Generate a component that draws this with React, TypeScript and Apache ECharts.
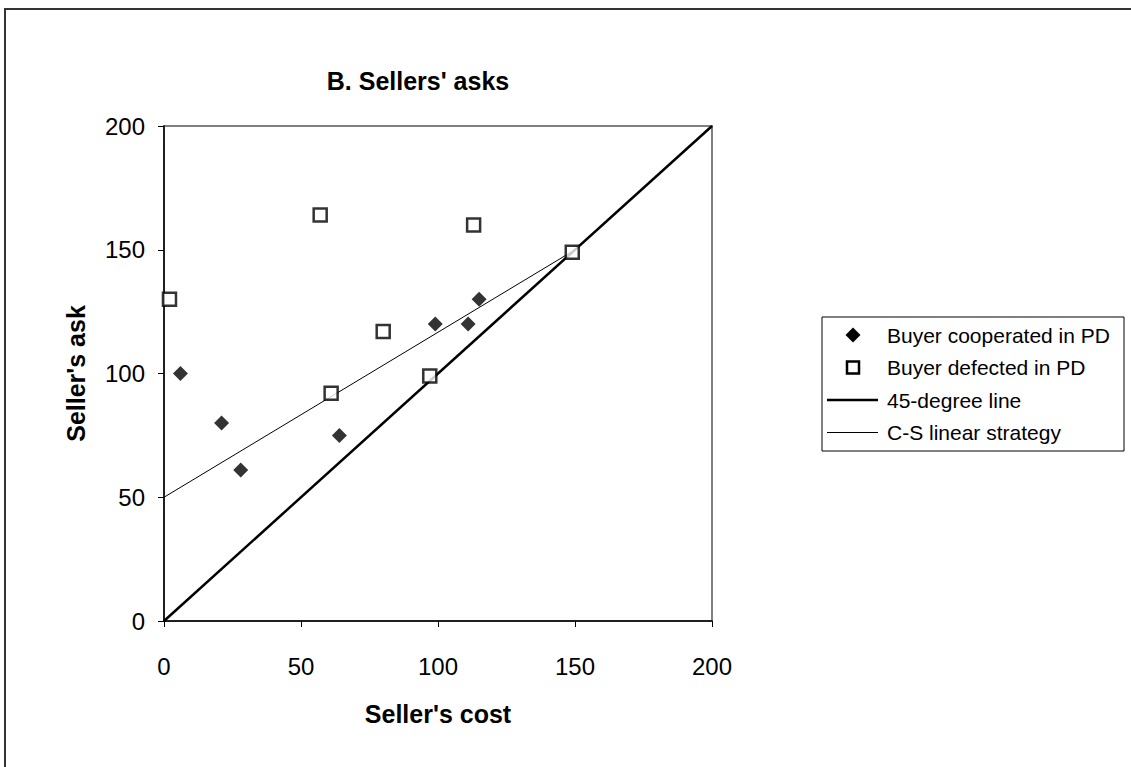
import React, { useEffect, useRef } from "react";
import * as echarts from "echarts";

const cooperatedCost = [6, 21, 28, 64, 99, 111, 115];
const cooperatedAsk = [100, 80, 61, 75, 120, 120, 130];
const defectedCost = [2, 57, 61, 80, 97, 113, 149];
const defectedAsk = [130, 164, 92, 117, 99, 160, 149];
const line45 = [[0, 0], [200, 200]];
const csLine = [[0, 50], [150, 150]];
const axisTicks = [0, 50, 100, 150, 200];
const legendNames = ["Buyer cooperated in PD", "Buyer defected in PD", "45-degree line", "C-S linear strategy"];

const FONT = "Liberation Sans, Arial, sans-serif";

export default function App() {
  const ref = useRef<HTMLDivElement>(null);
  useEffect(() => {
    if (!ref.current) return;
    const chart = echarts.init(ref.current, null, { renderer: "svg" });
    const coop = cooperatedCost.map((c, i) => [c, cooperatedAsk[i]]);
    const def = defectedCost.map((c, i) => [c, defectedAsk[i]]);

    const lgLeft = 822;
    const lgTop = 317;
    const rowY = (i: number) => lgTop + 18 + i * 32.5;
    const iconCx = 853;
    const legendGraphics: any[] = [
      {
        type: "rect",
        shape: { x: lgLeft, y: lgTop, width: 302, height: 134 },
        style: { fill: "#fff", stroke: "#000", lineWidth: 1 },
        z: 10,
      },
      {
        type: "polygon",
        shape: {
          points: [
            [iconCx, rowY(0) - 7.5],
            [iconCx + 7.5, rowY(0)],
            [iconCx, rowY(0) + 7.5],
            [iconCx - 7.5, rowY(0)],
          ],
        },
        style: { fill: "#000" },
        z: 11,
      },
      {
        type: "rect",
        shape: { x: iconCx - 6, y: rowY(1) - 6, width: 12, height: 12 },
        style: { fill: "#fff", stroke: "#000", lineWidth: 2.5 },
        z: 11,
      },
      {
        type: "line",
        shape: { x1: 827, y1: rowY(2), x2: 878, y2: rowY(2) },
        style: { stroke: "#000", lineWidth: 2.5 },
        z: 11,
      },
      {
        type: "line",
        shape: { x1: 827, y1: rowY(3), x2: 878, y2: rowY(3) },
        style: { stroke: "#000", lineWidth: 1 },
        z: 11,
      },
      ...legendNames.map((n, i) => ({
        type: "text",
        x: 887,
        y: rowY(i),
        style: {
          text: n,
          fill: "#000",
          font: `21px ${FONT}`,
          textAlign: "left",
          textVerticalAlign: "middle",
        },
        z: 11,
      })),
    ];

    chart.setOption({
      animation: false,
      backgroundColor: "#ffffff",
      textStyle: { fontFamily: FONT, color: "#000" },
      graphic: [
        {
          type: "rect",
          shape: { x: 5, y: 9, width: 1300, height: 900 },
          style: { fill: "none", stroke: "#333", lineWidth: 2 },
          silent: true,
        },
        {
          type: "text",
          x: 418,
          y: 81,
          style: {
            text: "B. Sellers' asks",
            fill: "#000",
            font: `bold 25px ${FONT}`,
            textAlign: "center",
            textVerticalAlign: "middle",
          },
        },
        ...legendGraphics,
      ],
      grid: { left: 164, right: 419, top: 126, bottom: 146, show: true, borderColor: "#808080", borderWidth: 2, backgroundColor: "transparent" },
      xAxis: {
        type: "value",
        min: axisTicks[0],
        max: axisTicks[axisTicks.length - 1],
        interval: 50,
        name: "Seller's cost",
        nameLocation: "middle",
        nameGap: 80,
        nameTextStyle: { fontFamily: FONT, fontSize: 25, fontWeight: "bold", color: "#000" },
        axisLine: { show: true, lineStyle: { color: "#000", width: 1.5 } },
        axisTick: { show: true, length: 6, lineStyle: { color: "#000" } },
        axisLabel: { fontFamily: FONT, fontSize: 24, color: "#000", margin: 33 },
        splitLine: { show: false },
      },
      yAxis: {
        type: "value",
        min: axisTicks[0],
        max: axisTicks[axisTicks.length - 1],
        interval: 50,
        name: "Seller's ask",
        nameLocation: "middle",
        nameGap: 76,
        nameTextStyle: { fontFamily: FONT, fontSize: 25, fontWeight: "bold", color: "#000" },
        axisLine: { show: true, lineStyle: { color: "#000", width: 1.5 } },
        axisTick: { show: true, length: 6, lineStyle: { color: "#000" } },
        axisLabel: { fontFamily: FONT, fontSize: 24, color: "#000", margin: 19 },
        splitLine: { show: false },
      },
      series: [
        {
          name: legendNames[0],
          type: "scatter",
          data: coop,
          symbol: "diamond",
          symbolSize: 15,
          itemStyle: { color: "#000" },
          z: 4,
        },
        {
          name: legendNames[1],
          type: "scatter",
          data: def,
          symbol: "rect",
          symbolSize: 13,
          itemStyle: { color: "#fff", borderColor: "#000", borderWidth: 2.5 },
          z: 5,
        },
        {
          name: legendNames[2],
          type: "line",
          data: line45,
          symbol: "none",
          lineStyle: { color: "#000", width: 2.5 },
          itemStyle: { color: "#000" },
          z: 2,
        },
        {
          name: legendNames[3],
          type: "line",
          data: csLine,
          symbol: "none",
          lineStyle: { color: "#000", width: 1 },
          itemStyle: { color: "#000" },
          z: 2,
        },
      ],
    });
    return () => chart.dispose();
  }, []);
  return (
    <div
      ref={ref}
      style={{ position: "fixed", left: 0, top: 0, width: 1131, height: 767 }}
    />
  );
}
